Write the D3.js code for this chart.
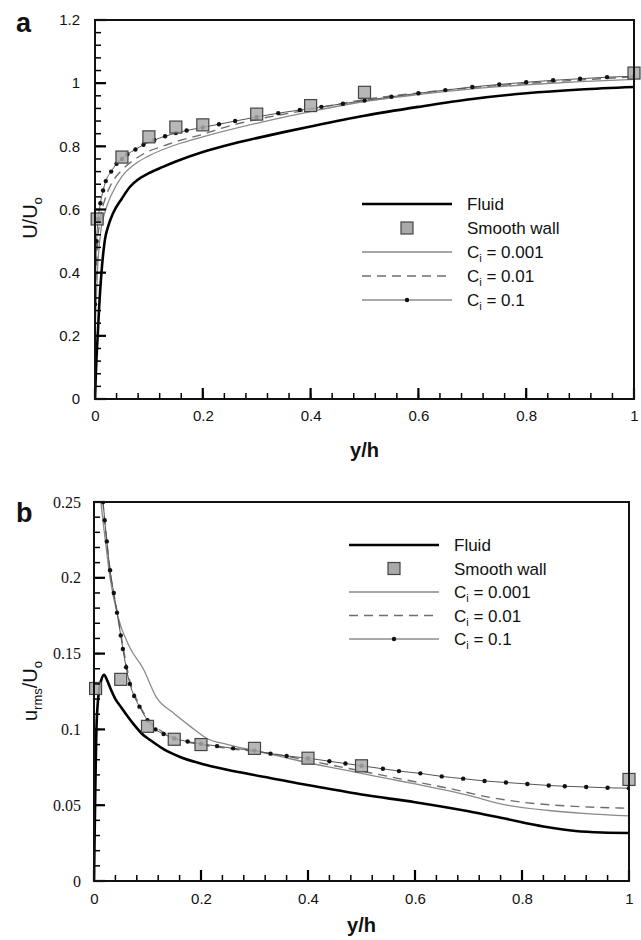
<!DOCTYPE html>
<html>
<head>
<meta charset="utf-8">
<script src="https://cdn.jsdelivr.net/npm/d3@7"></script>
<style>
  body { margin: 0; background: #fff; }
  text { font-family: "Liberation Sans", Arial, Helvetica, sans-serif; }
</style>
</head>
<body>
<script>
// ---- panel a : mean velocity U/Uo ----
var aFluidX = [0, 0.002, 0.005, 0.008, 0.012, 0.018, 0.025, 0.034, 0.05, 0.065, 0.08, 0.1, 0.126, 0.15, 0.2, 0.25, 0.3, 0.35, 0.4, 0.5, 0.6, 0.7, 0.8, 0.9, 1];
var aFluidU = [0, 0.1, 0.2, 0.3, 0.4, 0.5, 0.55, 0.59, 0.635, 0.672, 0.695, 0.715, 0.735, 0.752, 0.782, 0.806, 0.826, 0.845, 0.863, 0.897, 0.925, 0.95, 0.968, 0.98, 0.988];

var aSmoothX = [0.004, 0.05, 0.1, 0.15, 0.2, 0.3, 0.4, 0.5, 1];
var aSmoothU = [0.57, 0.766, 0.83, 0.861, 0.868, 0.902, 0.929, 0.971, 1.032];

var aC001X = [0, 0.005, 0.01, 0.02, 0.03, 0.05, 0.075, 0.1, 0.15, 0.2, 0.3, 0.4, 0.5, 0.6, 0.7, 0.8, 0.9, 1];
var aC001U = [0.2, 0.42, 0.52, 0.6, 0.645, 0.705, 0.745, 0.77, 0.805, 0.83, 0.873, 0.91, 0.942, 0.964, 0.982, 0.995, 1.005, 1.012];

var aC01X = [0, 0.005, 0.01, 0.02, 0.03, 0.05, 0.075, 0.1, 0.125, 0.15, 0.2, 0.25, 0.3, 0.4, 0.5, 0.6, 0.7, 0.8, 0.9, 1];
var aC01U = [0.28, 0.5, 0.57, 0.64, 0.68, 0.725, 0.76, 0.785, 0.8, 0.815, 0.838, 0.865, 0.885, 0.917, 0.948, 0.969, 0.986, 0.999, 1.01, 1.02];

var aC1X = [0, 0.003, 0.006, 0.01, 0.015, 0.02, 0.03, 0.04, 0.05, 0.06, 0.075, 0.09, 0.11, 0.13, 0.15, 0.17, 0.2, 0.23, 0.26, 0.3, 0.34, 0.38, 0.42, 0.46, 0.5, 0.55, 0.6, 0.65, 0.7, 0.75, 0.8, 0.85, 0.9, 0.95, 1];
var aC1U = [0.3, 0.5, 0.57, 0.62, 0.66, 0.69, 0.72, 0.745, 0.76, 0.775, 0.79, 0.805, 0.82, 0.832, 0.842, 0.85, 0.86, 0.87, 0.88, 0.893, 0.905, 0.915, 0.925, 0.935, 0.945, 0.957, 0.968, 0.978, 0.988, 0.996, 1.003, 1.009, 1.014, 1.019, 1.022];

var aYTicks = [0, 0.2, 0.4, 0.6, 0.8, 1, 1.2];

// ---- panel b : rms fluctuation urms/Uo ----
var bFluidX = [0, 0.002, 0.005, 0.01, 0.014, 0.019, 0.025, 0.032, 0.04, 0.05, 0.062, 0.075, 0.09, 0.105, 0.13, 0.16, 0.21, 0.26, 0.32, 0.38, 0.42, 0.5, 0.6, 0.7, 0.77, 0.84, 0.9, 0.95, 1];
var bFluidU = [0, 0.05, 0.105, 0.127, 0.133, 0.136, 0.132, 0.126, 0.12, 0.115, 0.109, 0.103, 0.097, 0.093, 0.087, 0.082, 0.0765, 0.0725, 0.0686, 0.0645, 0.062, 0.057, 0.052, 0.046, 0.041, 0.036, 0.033, 0.032, 0.0317];

var bSmoothX = [0.003, 0.05, 0.1, 0.15, 0.2, 0.3, 0.4, 0.5, 1];
var bSmoothU = [0.127, 0.133, 0.102, 0.0935, 0.09, 0.0875, 0.081, 0.076, 0.067];

var bC001X = [0, 0.005, 0.01, 0.02, 0.03, 0.045, 0.067, 0.092, 0.117, 0.148, 0.18, 0.211, 0.25, 0.3, 0.35, 0.4, 0.45, 0.5, 0.55, 0.6, 0.7, 0.772, 0.85, 0.92, 1];
var bC001U = [0.3, 0.28, 0.26, 0.228, 0.2, 0.174, 0.154, 0.14, 0.121, 0.111, 0.102, 0.094, 0.09, 0.086, 0.082, 0.078, 0.0745, 0.071, 0.0675, 0.064, 0.0565, 0.05, 0.0465, 0.0445, 0.043];

var bC01X = [0, 0.01, 0.017, 0.024, 0.03, 0.043, 0.054, 0.067, 0.085, 0.1, 0.13, 0.16, 0.2, 0.25, 0.3, 0.35, 0.4, 0.45, 0.5, 0.55, 0.6, 0.665, 0.735, 0.8, 0.884, 0.95, 1];
var bC01U = [0.29, 0.265, 0.248, 0.224, 0.205, 0.178, 0.155, 0.132, 0.116, 0.107, 0.098, 0.093, 0.09, 0.0875, 0.0855, 0.083, 0.0795, 0.076, 0.0725, 0.069, 0.0655, 0.061, 0.0555, 0.052, 0.0495, 0.0485, 0.048];

var bC1X = [0, 0.005, 0.01, 0.017, 0.02, 0.024, 0.03, 0.037, 0.043, 0.05, 0.054, 0.06, 0.067, 0.075, 0.085, 0.1, 0.115, 0.13, 0.15, 0.175, 0.2, 0.23, 0.26, 0.3, 0.33, 0.36, 0.4, 0.44, 0.47, 0.5, 0.54, 0.57, 0.61, 0.65, 0.69, 0.73, 0.77, 0.81, 0.85, 0.88, 0.92, 0.96, 1];
var bC1U = [0.3, 0.285, 0.27, 0.25, 0.238, 0.224, 0.205, 0.19, 0.177, 0.162, 0.153, 0.141, 0.13, 0.122, 0.115, 0.106, 0.1, 0.097, 0.094, 0.092, 0.0905, 0.089, 0.0875, 0.086, 0.084, 0.0825, 0.081, 0.079, 0.0775, 0.076, 0.074, 0.0725, 0.071, 0.069, 0.0675, 0.066, 0.065, 0.064, 0.063, 0.0625, 0.062, 0.0615, 0.0612];

var bYTicks = [0, 0.05, 0.1, 0.15, 0.2, 0.25];

var xTicks = [0, 0.2, 0.4, 0.6, 0.8, 1];
var legendNames = ["Fluid", "Smooth wall", "0.001", "0.01", "0.1"];

var svg = d3.select("body").append("svg")
    .attr("width", 641)
    .attr("height", 940);

function zip(xs, ys) {
    return xs.map(function (x, i) { return [x, ys[i]]; });
}

function fmt(d) { return String(+d.toFixed(3)); }

function drawPanel(p) {
    var x = d3.scaleLinear().domain([0, 1]).range([p.left, p.right]);
    var y = d3.scaleLinear().domain([0, p.ymax]).range([p.bottom, p.top]);
    var g = svg.append("g");

    var clipId = "clip" + p.letter;
    svg.append("clipPath").attr("id", clipId)
        .append("rect")
        .attr("x", p.left).attr("y", p.top)
        .attr("width", p.right - p.left).attr("height", p.bottom - p.top);

    var line = d3.line().x(function (d) { return x(d[0]); }).y(function (d) { return y(d[1]); })
        .curve(d3.curveMonotoneX);
    var lines = g.append("g").attr("clip-path", "url(#" + clipId + ")");

    lines.append("path").datum(zip(p.c001x, p.c001y)).attr("d", line)
        .attr("fill", "none").attr("stroke", "#8a8a8a").attr("stroke-width", 1.3);
    lines.append("path").datum(zip(p.c01x, p.c01y)).attr("d", line)
        .attr("fill", "none").attr("stroke", "#6e6e6e").attr("stroke-width", 1.4)
        .attr("stroke-dasharray", "9,6");
    var c1 = zip(p.c1x, p.c1y);
    lines.append("path").datum(c1).attr("d", line)
        .attr("fill", "none").attr("stroke", "#555").attr("stroke-width", 1);
    lines.selectAll(".dot").data(c1).enter().append("circle")
        .attr("cx", function (d) { return x(d[0]); }).attr("cy", function (d) { return y(d[1]); })
        .attr("r", 2.2).attr("fill", "#111");
    lines.append("path").datum(zip(p.fluidx, p.fluidy)).attr("d", line)
        .attr("fill", "none").attr("stroke", "#000").attr("stroke-width", 2.6);

    g.selectAll(".sq").data(zip(p.smoothx, p.smoothy)).enter().append("rect")
        .attr("x", function (d) { return x(d[0]) - 6; }).attr("y", function (d) { return y(d[1]) - 6; })
        .attr("width", 12).attr("height", 12)
        .attr("fill", "#aaa").attr("fill-opacity", 0.85)
        .attr("stroke", "#444").attr("stroke-width", 1.2);

    // ticks, drawn inward on the left and bottom sides
    var minorX = d3.range(0, 1.0001, 0.04);
    var minorY = d3.range(0, p.ymax + 1e-6, p.ymax / (p.yticks.length - 1) / 5);
    var tk = g.append("g").attr("stroke", "#000");
    tk.selectAll(".mx").data(minorX).enter().append("line")
        .attr("x1", function (d) { return x(d); }).attr("x2", function (d) { return x(d); })
        .attr("y1", p.bottom).attr("y2", p.bottom - 6).attr("stroke-width", 1.5);
    tk.selectAll(".my").data(minorY).enter().append("line")
        .attr("y1", function (d) { return y(d); }).attr("y2", function (d) { return y(d); })
        .attr("x1", p.left).attr("x2", p.left + 6).attr("stroke-width", 1.5);
    tk.selectAll(".MX").data(xTicks).enter().append("line")
        .attr("x1", function (d) { return x(d); }).attr("x2", function (d) { return x(d); })
        .attr("y1", p.bottom).attr("y2", p.bottom - 11).attr("stroke-width", 2.2);
    tk.selectAll(".MY").data(p.yticks).enter().append("line")
        .attr("y1", function (d) { return y(d); }).attr("y2", function (d) { return y(d); })
        .attr("x1", p.left).attr("x2", p.left + 11).attr("stroke-width", 2.2);

    // tick labels through d3 axes (lines hidden)
    var ax = g.append("g").attr("transform", "translate(0," + p.bottom + ")")
        .call(d3.axisBottom(x).tickValues(xTicks).tickFormat(fmt)
            .tickSize(0).tickPadding(p.xpad));
    var ay = g.append("g").attr("transform", "translate(" + p.left + ",0)")
        .call(d3.axisLeft(y).tickValues(p.yticks).tickFormat(fmt)
            .tickSize(0).tickPadding(p.ypad));
    [ax, ay].forEach(function (a) {
        a.select(".domain").remove();
        a.selectAll("line").remove();
        a.selectAll("text").attr("fill", "#111").style("font-size", "15px");
    });
    ay.selectAll("text").style("font-family", p.yfont).style("font-size", p.yfontSize);

    // frame
    g.append("rect").attr("x", p.left).attr("y", p.top)
        .attr("width", p.right - p.left).attr("height", p.bottom - p.top)
        .attr("fill", "none").attr("stroke", "#111").attr("stroke-width", 2);

    // legend
    var lg = g.append("g");
    legendNames.forEach(function (name, i) {
        var yy = p.legTop + i * p.legStep;
        var x0 = p.legX, x1 = p.legX + 90;
        if (i === 0) {
            lg.append("line").attr("x1", x0).attr("x2", x1).attr("y1", yy).attr("y2", yy)
                .attr("stroke", "#000").attr("stroke-width", 2.6);
        } else if (i === 1) {
            lg.append("rect").attr("x", (x0 + x1) / 2 - 6).attr("y", yy - 6)
                .attr("width", 12).attr("height", 12)
                .attr("fill", "#aaa").attr("stroke", "#444").attr("stroke-width", 1.2);
        } else if (i === 2) {
            lg.append("line").attr("x1", x0).attr("x2", x1).attr("y1", yy).attr("y2", yy)
                .attr("stroke", "#8a8a8a").attr("stroke-width", 1.3);
        } else if (i === 3) {
            lg.append("line").attr("x1", x0).attr("x2", x1).attr("y1", yy).attr("y2", yy)
                .attr("stroke", "#6e6e6e").attr("stroke-width", 1.4).attr("stroke-dasharray", "9,6");
        } else {
            lg.append("line").attr("x1", x0).attr("x2", x1).attr("y1", yy).attr("y2", yy)
                .attr("stroke", "#555").attr("stroke-width", 1);
            lg.append("circle").attr("cx", (x0 + x1) / 2).attr("cy", yy).attr("r", 2.2).attr("fill", "#111");
        }
        var t = lg.append("text").attr("x", p.legX + 105).attr("y", yy + 6)
            .style("font-size", "17px").attr("fill", "#111");
        if (i < 2) {
            t.text(name);
        } else {
            t.append("tspan").text("C");
            t.append("tspan").text("i").attr("dy", 4).style("font-size", "11px");
            t.append("tspan").text(" = " + name).attr("dy", -4);
        }
    });

    // titles
    g.append("text").attr("x", (p.left + p.right) / 2).attr("y", p.xtitleY)
        .attr("text-anchor", "middle").style("font-size", "20px").style("font-weight", "bold")
        .attr("fill", "#111").text("y/h");
    g.append("text").attr("x", 16).attr("y", p.letterY)
        .style("font-size", "27px").style("font-weight", "bold").attr("fill", "#111").text(p.letter);

    var yt = g.append("text")
        .attr("transform", "translate(37," + p.ytitleY + ") rotate(-90)")
        .attr("text-anchor", "middle").style("font-size", "20px").attr("fill", "#111");
    p.ytitle.forEach(function (part) {
        var ts = yt.append("tspan").text(part[0]);
        if (part[1]) ts.attr("dy", 5).style("font-size", "13px");
        else ts.attr("dy", part[2] || 0);
    });
}

drawPanel({
    letter: "a", left: 95, right: 634, top: 20, bottom: 399, ymax: 1.2,
    yticks: aYTicks, xpad: 11, ypad: 15,
    yfont: "'Liberation Sans', Arial, sans-serif", yfontSize: "15px",
    fluidx: aFluidX, fluidy: aFluidU, smoothx: aSmoothX, smoothy: aSmoothU,
    c001x: aC001X, c001y: aC001U, c01x: aC01X, c01y: aC01U, c1x: aC1X, c1y: aC1U,
    legX: 362, legTop: 204, legStep: 24,
    xtitleY: 457, letterY: 32, ytitleY: 218,
    ytitle: [["U/U", false], ["o", true]]
});

drawPanel({
    letter: "b", left: 94, right: 629, top: 502, bottom: 881, ymax: 0.25,
    yticks: bYTicks, xpad: 12, ypad: 13,
    yfont: "'Liberation Serif', 'Times New Roman', serif", yfontSize: "16px",
    fluidx: bFluidX, fluidy: bFluidU, smoothx: bSmoothX, smoothy: bSmoothU,
    c001x: bC001X, c001y: bC001U, c01x: bC01X, c01y: bC01U, c1x: bC1X, c1y: bC1U,
    legX: 349, legTop: 545, legStep: 23.5,
    xtitleY: 932, letterY: 522, ytitleY: 691,
    ytitle: [["u", false], ["rms", true], ["/U", false, -5], ["o", true]]
});
</script>
</body>
</html>
